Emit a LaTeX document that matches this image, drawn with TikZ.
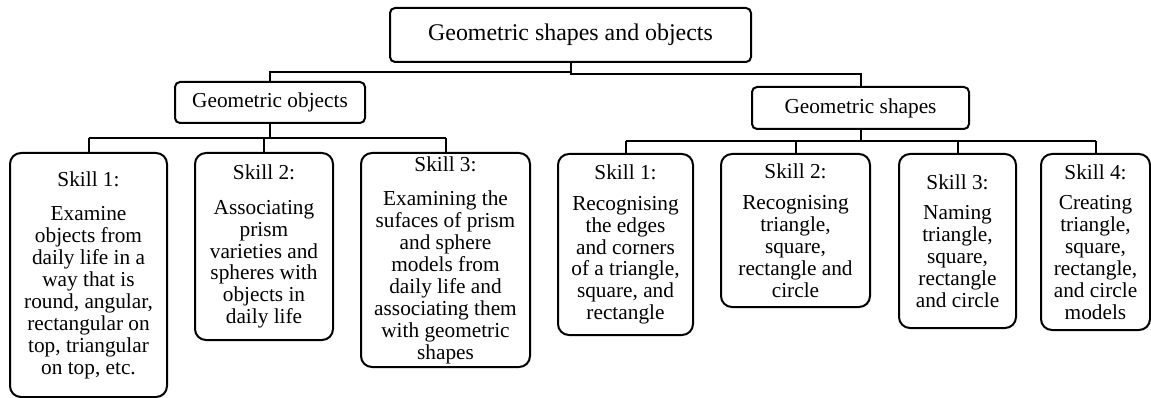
\documentclass[tikz,border=0pt]{standalone}
\usepackage{fontspec}
\setmainfont{Liberation Serif}
\begin{document}
\begin{tikzpicture}[x=1pt,y=-1pt,
  box/.style={draw, line width=2pt, rounded corners=5pt, inner sep=0pt, align=center,
    font=\fontsize{21.3}{21.9}\selectfont},
  skill/.style={box, rounded corners=11pt},
  conn/.style={line width=2pt}]
\useasboundingbox (0,0) rectangle (1151,398);
\node[box, minimum width=361pt, minimum height=54pt, font=\fontsize{23.9}{25}\selectfont] (T) at (570.5,35) {Geometric shapes and objects};
\node[box, minimum width=190pt, minimum height=41pt] (GO) at (270,102.5) {Geometric objects};
\node[box, minimum width=217pt, minimum height=42pt] (GS) at (860.5,108) {Geometric shapes};

\node[skill, minimum width=157pt, minimum height=244pt] (L1) at (88.5,275) {Skill 1:\\[13pt]Examine\\objects from\\daily life in a\\way that is\\round, angular,\\rectangular on\\top, triangular\\on top, etc.};
\node[skill, minimum width=138pt, minimum height=187pt] (L2) at (264,246.5) {Skill 2:\\[13pt]Associating\\prism\\varieties and\\spheres with\\objects in\\daily life};
\node[skill, minimum width=169pt, minimum height=214pt] (L3) at (445.5,260) {Skill 3:\\[13pt]Examining the\\sufaces of prism\\and sphere\\models from\\daily life and\\associating them\\with geometric\\shapes};

\node[skill, minimum width=135pt, minimum height=181pt] (R1) at (625.5,244.5) {Skill 1:\\[9pt]Recognising\\the edges\\and corners\\of a triangle,\\square, and\\rectangle};
\node[skill, minimum width=149pt, minimum height=153pt] (R2) at (795.5,230.5) {Skill 2:\\[9pt]Recognising\\triangle,\\square,\\rectangle and\\circle};
\node[skill, minimum width=117pt, minimum height=174pt] (R3) at (957.5,241) {Skill 3:\\[9pt]Naming\\triangle,\\square,\\rectangle\\and circle};
\node[skill, minimum width=109pt, minimum height=176pt] (R4) at (1095.5,242) {Skill 4:\\[9pt]Creating\\triangle,\\square,\\rectangle,\\and circle\\models};

\coordinate (jl) at (0,72);
\coordinate (jr) at (0,74);
\draw[conn] (T.south) -- (T.south |- jl) -| (GO.north);
\draw[conn] (T.south) -- (T.south |- jr) -| (GS.north);

\coordinate (bl) at (0,138.5);
\draw[conn] (GO.south) -- (GO.south |- bl);
\draw[conn] (L1.north |- bl) -- (L3.north |- bl);
\foreach \n in {L1,L2,L3} \draw[conn] (\n.north |- bl) -- (\n.north);

\coordinate (br) at (0,141);
\draw[conn] (GS.south) -- (GS.south |- br);
\draw[conn] (R1.north |- br) -- (R4.north |- br);
\foreach \n in {R1,R2,R3,R4} \draw[conn] (\n.north |- br) -- (\n.north);
\end{tikzpicture}
\end{document}
